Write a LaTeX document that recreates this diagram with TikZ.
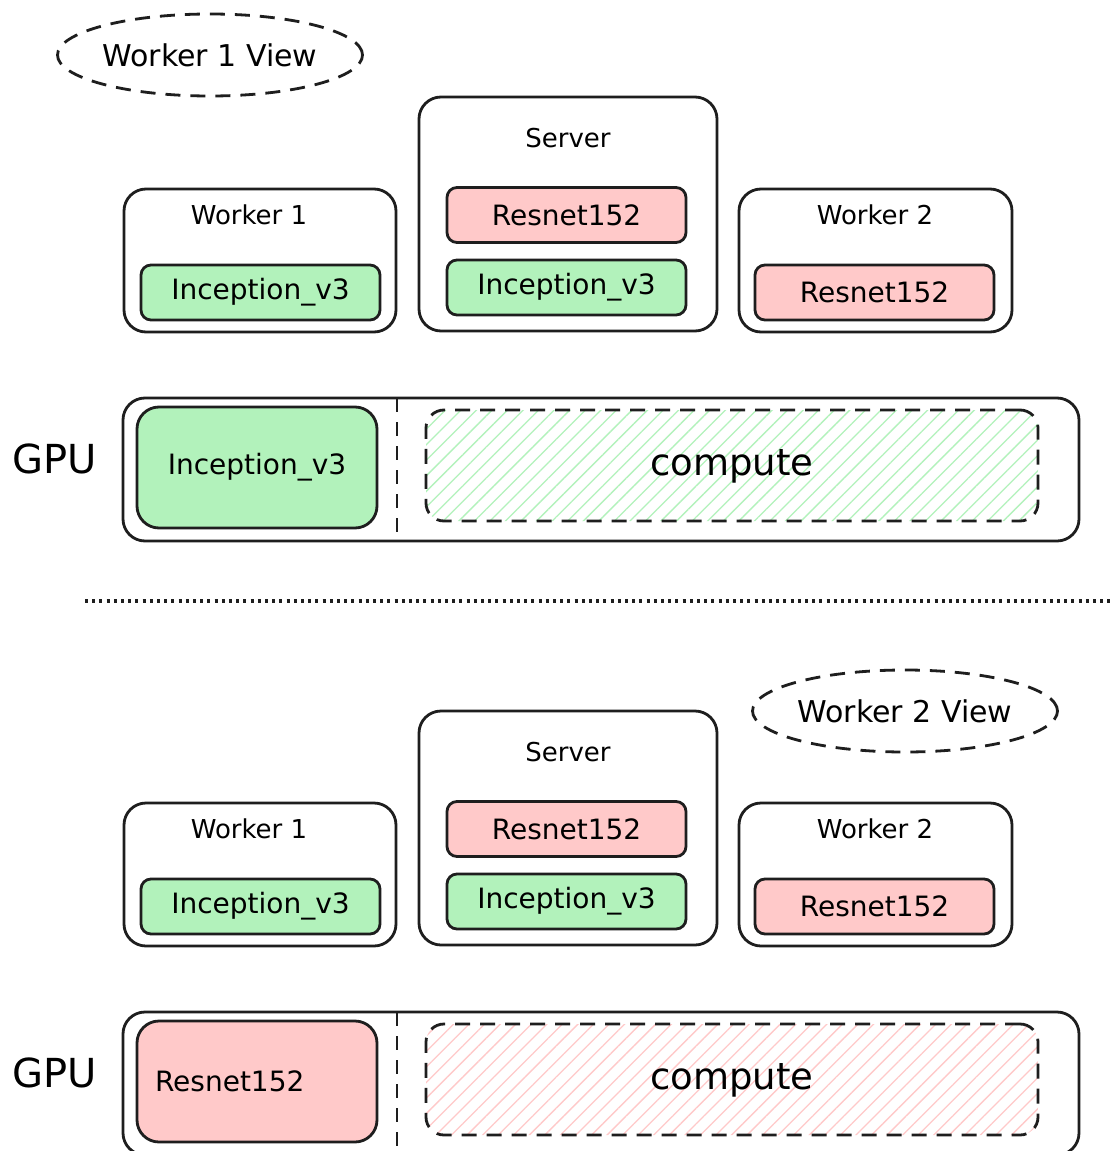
\documentclass[tikz,border=0pt]{standalone}
\usepackage{fontspec}
\setmainfont{DejaVu Sans}
\usetikzlibrary{shapes.geometric,patterns.meta}

\definecolor{ink}{HTML}{1E1E1E}
\definecolor{modelgreen}{HTML}{B2F2BB}
\definecolor{modelred}{HTML}{FFC9C9}

\tikzset{
  hostbox/.style={draw=ink, line width=2.8pt, rounded corners=22pt, inner sep=0pt},
  modelbox/.style={draw=ink, line width=2.8pt, rounded corners=10pt, inner sep=0pt,
    minimum width=239pt, minimum height=55pt, font=\fontsize{28}{32}\selectfont},
  greenmodel/.style={modelbox, fill=modelgreen},
  redmodel/.style={modelbox, fill=modelred},
  boxtitle/.style={inner sep=0pt, font=\fontsize{26}{30}\selectfont},
  viewtag/.style={ellipse, draw=ink, line width=2.8pt, dash pattern=on 15pt off 10pt,
    minimum width=305pt, minimum height=82pt, inner sep=0pt, font=\fontsize{30}{34}\selectfont},
  gpubox/.style={draw=ink, line width=2.8pt, rounded corners=22pt,
    minimum width=956pt, minimum height=143pt, inner sep=0pt},
  gpumodel/.style={draw=ink, line width=2.8pt, rounded corners=22pt,
    minimum width=240pt, minimum height=121pt, inner sep=0pt, font=\fontsize{28}{32}\selectfont},
  computebox/.style={draw=ink, line width=2.8pt, rounded corners=18pt, dash pattern=on 15pt off 10pt,
    minimum width=612pt, minimum height=111pt, inner sep=0pt,
    pattern={Lines[angle=45,distance=11pt,line width=1.3pt]}},
  divider/.style={draw=ink, line width=2.8pt, dash pattern=on 14pt off 10pt},
  gpulabel/.style={inner sep=0pt, font=\fontsize{40}{44}\selectfont},
}

% One "cluster + GPU" panel; #1 = GPU model style, #2 = GPU model text, #3 = hatch colour
\newcommand\clusterpanel[3]{%
  % hosts
  \node[hostbox, minimum width=272pt, minimum height=143pt] (w1) at (260,260.5) {};
  \node[boxtitle] (w1t) at (249,215) {Worker 1};
  \node[greenmodel] (w1m) at (260.5,292.5) {Inception\_v3};

  \node[hostbox, minimum width=298pt, minimum height=234pt] (srv) at (568,214) {};
  \node[boxtitle] (srvt) at (568,138) {Server};
  \node[redmodel] (srvr) at (566.5,215) {Resnet152};
  \node[greenmodel] (srvg) at (566.5,287.5) {Inception\_v3};

  \node[hostbox, minimum width=273pt, minimum height=143pt] (w2) at (875.5,260.5) {};
  \node[boxtitle] (w2t) at (875,215) {Worker 2};
  \node[redmodel] (w2m) at (874.5,292.5) {Resnet152};

  % GPU memory
  \node[gpulabel] (gpul) at (55,459) {GPU};
  \node[gpubox] (gpu) at (601,469.5) {};
  \node[#1] (gpum) at (257,467.5) {#2};
  \coordinate (divtop) at (397,398);
  \coordinate (divbot) at (397,541);
  \draw[divider] (divtop) -- (divbot);
  \node[computebox, pattern color=#3] (comp) at (732,465.5) {};
  \node[inner sep=0pt, font=\fontsize{37}{40}\selectfont] (compt) at (732,466) {compute};
}

\begin{document}
\begin{tikzpicture}[x=1pt,y=-1pt]
  \useasboundingbox (0,0) rectangle (1110,1151);
  \clip (0,0) rectangle (1110,1151);
  \fill[white] (0,0) rectangle (1110,1151);

  % worker 1 perspective
  \node[viewtag] (v1) at (210,55) {Worker 1 View};
  \clusterpanel{gpumodel, fill=modelgreen}{Inception\_v3}{modelgreen}

  % separator
  \coordinate (sepl) at (85,601);
  \coordinate (sepr) at (1110,601);
  \draw[ink, line width=3.2pt, dash pattern=on 3pt off 4.2pt] (sepl) -- (sepr);

  % worker 2 perspective
  \node[viewtag] (v2) at (905,711) {Worker 2 View};
  \begin{scope}[shift={(0,614)}, name prefix=b-]
    \clusterpanel{gpumodel, fill=modelred, align=left, text width=204pt}{Resnet152}{modelred}
  \end{scope}
\end{tikzpicture}
\end{document}
